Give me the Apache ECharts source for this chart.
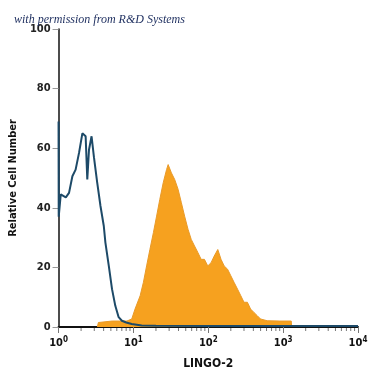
<!DOCTYPE html>
<html>
<head>
<meta charset="utf-8">
<script src="https://cdn.jsdelivr.net/npm/echarts@6/dist/echarts.min.js"></script>
<style>html,body{margin:0;padding:0;background:#fff}#c{width:375px;height:375px}</style>
</head>
<body>
<div id="c"></div>
<script>
// Isotype control (blue outline)
const isoX = [1.0, 1.005, 1.07, 1.25, 1.38, 1.53, 1.69, 1.88, 2.08, 2.30, 2.42, 2.55, 2.76, 2.97, 3.28, 3.63, 4.02, 4.22, 4.69, 5.18, 5.73, 6.35, 7.02, 8.0, 9.5, 12.9, 20, 100, 1000, 10000];
const isoY = [69, 37, 44.5, 43.5, 45, 50.6, 52.8, 58.5, 65, 64, 49.5, 59.5, 64, 57, 48.5, 40.6, 33.9, 28.4, 20.5, 12.7, 7.1, 3.3, 2.1, 1.5, 1.0, 0.5, 0.4, 0.3, 0.3, 0.3];
// LINGO-2 stained (orange filled)
const lingoX = [3.3, 3.4, 5.2, 8.2, 9.5, 10.5, 12.3, 13.6, 15.0, 16.6, 18.5, 20.4, 22.5, 25.0, 27.7, 29.1, 32.2, 35.6, 39.5, 43.7, 48.3, 53.6, 59.2, 65.5, 72.6, 80.3, 88.8, 98.5, 109, 120, 134, 148, 163, 181, 200, 221, 246, 272, 300, 333, 368, 407, 451, 499, 612, 900, 1283, 1300];
const lingoY = [0, 1.5, 2, 2, 2.7, 6, 10.5, 15, 20.5, 26, 31.7, 37.2, 42.8, 48.4, 52.8, 54.5, 51.7, 49.5, 46.2, 41.7, 37.2, 32.8, 29.4, 27.2, 25, 22.7, 22.7, 20.5, 21.6, 23.8, 26, 22.7, 20.5, 19.4, 17.2, 15, 12.7, 10.5, 8.3, 8.3, 6, 4.9, 3.8, 2.7, 2.1, 2, 2, 0];
// Axis ticks
const xMajorExponents = ['0', '1', '2', '3', '4'];
const xMinorTicks = [2,3,4,5,6,7,8,9,20,30,40,50,60,70,80,90,200,300,400,500,600,700,800,900,2000,3000,4000,5000,6000,7000,8000,9000];
const yTicks = [0, 20, 40, 60, 80, 100];

const chart = echarts.init(document.getElementById('c'), null, {renderer: 'canvas'});
const font = "'DejaVu Sans Condensed', 'Liberation Sans', Arial, sans-serif";
chart.setOption({
  animation: false,
  backgroundColor: '#fff',
  title: {
    text: 'with permission from R&D Systems',
    left: 9, top: 9,
    textStyle: {fontFamily: 'Liberation Serif', fontStyle: 'italic', fontWeight: 'normal', fontSize: 12, color: '#1c2d5e'}
  },
  grid: {left: 56, right: 17, top: 29, bottom: 47},
  xAxis: {
    type: 'log', logBase: 10, min: 1, max: 10000,
    name: 'LINGO-2', nameLocation: 'middle', nameGap: 31,
    nameTextStyle: {fontFamily: font, fontWeight: 'bold', fontSize: 12, color: '#111'},
    axisLine: {lineStyle: {color: '#111', width: 2}},
    axisTick: {length: 6, lineStyle: {color: '#777', width: 1}},
    splitLine: {show: false},
    axisLabel: {
      margin: 9,
      formatter: function (v) { const e = xMajorExponents[Math.round(Math.log10(v))]; return '{b|10}{s|' + e + '}'; },
      rich: {
        b: {fontFamily: font, fontWeight: 'bold', fontSize: 11, color: '#111'},
        s: {fontFamily: font, fontWeight: 'bold', fontSize: 8, color: '#111', verticalAlign: 'top', padding: [0, 0, 6, 0]}
      }
    }
  },
  yAxis: {
    type: 'value', min: 0, max: 100, interval: 20,
    name: 'Relative Cell Number', nameLocation: 'middle', nameGap: 38,
    nameTextStyle: {fontFamily: font, fontWeight: 'bold', fontSize: 11, color: '#111'},
    axisLine: {show: true, lineStyle: {color: '#111', width: 1.5}},
    axisTick: {show: true, length: 6, lineStyle: {color: '#999'}},
    splitLine: {show: false},
    axisLabel: {margin: 8, fontFamily: font, fontWeight: 'bold', fontSize: 11, color: '#222',
      formatter: function (v) { return yTicks.indexOf(v) >= 0 ? String(v) : ''; }}
  },
  series: [
    {
      type: 'line', name: 'LINGO-2',
      data: lingoX.map((x, i) => [x, lingoY[i]]),
      showSymbol: false, smooth: false,
      lineStyle: {color: '#e89a2a', width: 1},
      areaStyle: {color: '#f6a11f', opacity: 1},
      z: 2
    },
    {
      type: 'line', name: 'Isotype',
      data: isoX.map((x, i) => [x, isoY[i]]),
      showSymbol: false, smooth: false,
      lineStyle: {color: '#1d4a68', width: 2},
      z: 3
    },
    {
      type: 'custom', name: 'minorTicks', silent: true, clip: false,
      data: xMinorTicks.map(v => [v, 0]),
      renderItem: function (params, api) {
        const p = api.coord([api.value(0), 0]);
        return {type: 'line', shape: {x1: p[0], y1: p[1] + 1, x2: p[0], y2: p[1] + 4}, style: {stroke: '#777', lineWidth: 1}};
      },
      z: 4
    }
  ]
});
</script>
</body>
</html>
